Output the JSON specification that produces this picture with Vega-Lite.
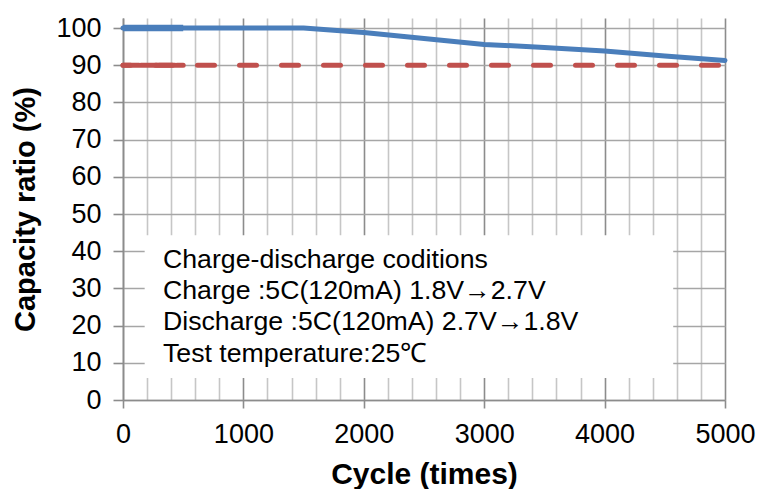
{
  "$schema": "https://vega.github.io/schema/vega-lite/v6.json",
  "width": 602,
  "height": 382,
  "autosize": "none",
  "padding": {"left": 123, "top": 18, "right": 35, "bottom": 89},
  "background": "white",
  "config": {
    "view": {"stroke": null},
    "font": "Liberation Sans",
    "axis": {"labelFont": "Liberation Sans", "titleFont": "Liberation Sans", "labelColor": "#000000", "titleColor": "#000000"}
  },
  "datasets": {
    "capacity": [
      {"cycle": 0, "ratio": 100},
      {"cycle": 500, "ratio": 100},
      {"cycle": 1500, "ratio": 100},
      {"cycle": 2000, "ratio": 98.8},
      {"cycle": 2500, "ratio": 97.2},
      {"cycle": 3000, "ratio": 95.6},
      {"cycle": 3500, "ratio": 94.8},
      {"cycle": 4000, "ratio": 93.8},
      {"cycle": 4500, "ratio": 92.5},
      {"cycle": 5000, "ratio": 91.3}
    ],
    "capacityStart": [
      {"cycle": 0, "ratio": 100},
      {"cycle": 500, "ratio": 100}
    ],
    "limit": [
      {"cycle": 0, "ratio": 90},
      {"cycle": 5000, "ratio": 90}
    ],
    "limitStart": [
      {"cycle": 0, "ratio": 90},
      {"cycle": 500, "ratio": 90}
    ]
  },
  "layer": [
    {
      "data": {"name": "limit"},
      "mark": {"type": "line", "color": "#c0504d", "strokeWidth": 5, "strokeDash": [17, 25], "strokeDashOffset": 9.5, "strokeCap": "round"},
      "encoding": {
        "x": {
          "field": "cycle", "type": "quantitative",
          "scale": {"domain": [0, 5000], "nice": false},
          "axis": {
            "values": [0,200,400,600,800,1000,1200,1400,1600,1800,2000,2200,2400,2600,2800,3000,3200,3400,3600,3800,4000,4200,4400,4600,4800,5000],
            "tickCount": 100,
            "labelExpr": "datum.value % 1000 === 0 ? datum.label : ''",
            "labelOverlap": false,
            "format": "d",
            "grid": true,
            "gridColor": {"condition": {"test": "datum.value % 1000 === 0", "value": "#8c8c8c"}, "value": "#c6c6c6"},
            "gridWidth": 1.6,
            "gridOpacity": 1,
            "domainColor": "#8c8c8c",
            "domainWidth": 1.6,
            "tickColor": "#8c8c8c",
            "tickWidth": 1.6,
            "tickSize": 8,
            "tickOpacity": {"condition": {"test": "datum.value % 1000 === 0", "value": 1}, "value": 0},
            "labelFontSize": 27,
            "labelPadding": 13,
            "labelFlush": false,
            "title": "Cycle (times)",
            "titleFontSize": 30,
            "titleFontWeight": "bold",
            "titlePadding": 12
          }
        },
        "y": {
          "field": "ratio", "type": "quantitative",
          "scale": {"domain": [0, 102.7], "nice": false},
          "axis": {
            "values": [0,10,20,30,40,50,60,70,80,90,100],
            "tickCount": 100,
            "labelOverlap": false,
            "grid": true,
            "gridColor": "#a6a6a6",
            "gridWidth": 1.6,
            "gridOpacity": 1,
            "domainColor": "#8c8c8c",
            "domainWidth": 1.6,
            "tickColor": "#8c8c8c",
            "tickWidth": 1.6,
            "tickSize": 10,
            "labelFontSize": 27,
            "labelPadding": 12,
            "title": "Capacity ratio (%)",
            "titleFontSize": 29,
            "titleFontWeight": "bold",
            "titlePadding": 15
          }
        }
      }
    },
    {
      "data": {"name": "limitStart"},
      "mark": {"type": "line", "color": "#c0504d", "strokeWidth": 5, "strokeDash": [16, 2], "strokeCap": "round"},
      "encoding": {
        "x": {"field": "cycle", "type": "quantitative"},
        "y": {"field": "ratio", "type": "quantitative"}
      }
    },
    {
      "data": {"name": "capacity"},
      "mark": {"type": "line", "color": "#4a7ebb", "strokeWidth": 5, "strokeCap": "round", "strokeJoin": "round"},
      "encoding": {
        "x": {"field": "cycle", "type": "quantitative"},
        "y": {"field": "ratio", "type": "quantitative"}
      }
    },
    {
      "data": {"name": "capacityStart"},
      "mark": {"type": "line", "color": "#4a7ebb", "strokeWidth": 6.5, "strokeCap": "butt"},
      "encoding": {
        "x": {"field": "cycle", "type": "quantitative"},
        "y": {"field": "ratio", "type": "quantitative"}
      }
    },
    {
      "data": {"values": [{}]},
      "mark": {"type": "rect", "fill": "white", "stroke": null},
      "encoding": {
        "x": {"datum": 180, "type": "quantitative"},
        "x2": {"datum": 4570},
        "y": {"datum": 5.9, "type": "quantitative"},
        "y2": {"datum": 44.3}
      }
    },
    {
      "data": {"values": [{}]},
      "mark": {
        "type": "text",
        "text": ["Charge-discharge coditions", "Charge :5C(120mA) 1.8V→2.7V", "Discharge :5C(120mA) 2.7V→1.8V", "Test temperature:25℃"],
        "align": "left",
        "baseline": "top",
        "fontSize": 26.7,
        "lineHeight": 31.3,
        "font": "Liberation Sans",
        "color": "#000000"
      },
      "encoding": {
        "x": {"datum": 332, "type": "quantitative"},
        "y": {"datum": 41.2, "type": "quantitative"}
      }
    }
  ]
}
